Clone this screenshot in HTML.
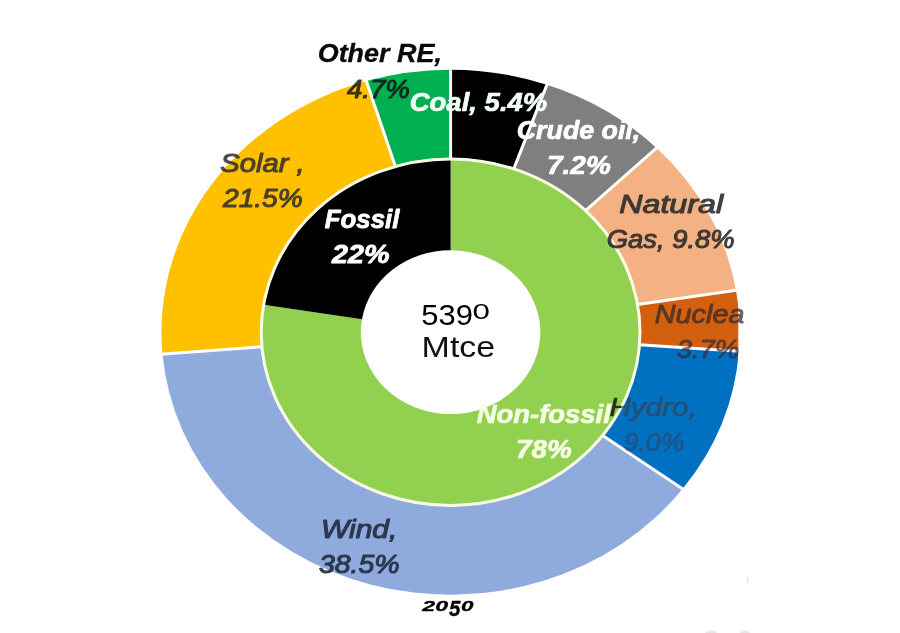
<!DOCTYPE html>
<html><head><meta charset="utf-8"><title>2050 energy mix</title>
<style>
html,body{margin:0;padding:0;background:#fff;}
body{width:900px;height:633px;overflow:hidden;}
svg{display:block}
.bi text{font-family:"Liberation Sans",sans-serif;font-style:italic;font-size:25.5px;stroke-linejoin:round;}
.c text{font-family:"Liberation Sans",sans-serif;font-weight:400;}
</style></head><body>
<svg width="900" height="633" viewBox="0 0 900 633">
<defs><clipPath id="clipR"><rect x="0" y="0" width="743.6" height="633"/></clipPath>
<clipPath id="clipChart"><rect x="0" y="0" width="738.3" height="633"/></clipPath>
<linearGradient id="hy" gradientUnits="userSpaceOnUse" x1="611.8" y1="403.3" x2="629.5" y2="412.7"><stop offset="0" stop-color="#1c2a1c" stop-opacity="0.95"/><stop offset="0.5" stop-color="#1c2a1c" stop-opacity="0.95"/><stop offset="0.5" stop-color="#3c3c44" stop-opacity="0.56"/><stop offset="1" stop-color="#3c3c44" stop-opacity="0.56"/></linearGradient>
</defs>
<rect width="900" height="633" fill="#fff"/>
<g clip-path="url(#clipChart)">
<path d="M450.60 69.70A289.1 262.5 0 0 1 547.00 84.72L513.76 168.91A189.4 173.2 0 0 0 450.60 159.00Z" fill="#000000"/>
<path d="M547.00 84.72A289.1 262.5 0 0 1 656.63 148.05L585.58 210.70A189.4 173.2 0 0 0 513.76 168.91Z" fill="#7f7f7f"/>
<path d="M656.63 148.05A289.1 262.5 0 0 1 735.98 290.24L637.56 304.51A189.4 173.2 0 0 0 585.58 210.70Z" fill="#f4b183"/>
<path d="M735.98 290.24A289.1 262.5 0 0 1 738.94 351.19L639.50 344.73A189.4 173.2 0 0 0 637.56 304.51Z" fill="#d2600f"/>
<path d="M738.94 351.19A289.1 262.5 0 0 1 682.65 488.76L602.63 435.50A189.4 173.2 0 0 0 639.50 344.73Z" fill="#0070c0"/>
<path d="M682.65 488.76A289.1 262.5 0 0 1 162.51 354.17L261.86 346.69A189.4 173.2 0 0 0 602.63 435.50Z" fill="#8faadc"/>
<path d="M162.51 354.17A289.1 262.5 0 0 1 366.30 81.11L395.37 166.53A189.4 173.2 0 0 0 261.86 346.69Z" fill="#ffc000"/>
<path d="M366.30 81.11A289.1 262.5 0 0 1 450.60 69.70L450.60 159.00A189.4 173.2 0 0 0 395.37 166.53Z" fill="#00b050"/>
<path d="M450.60 159.00A189.4 173.2 0 1 1 263.61 304.66L361.99 319.18A89.75 81.9 0 1 0 450.60 250.30Z" fill="#92d050"/>
<path d="M263.61 304.66A189.4 173.2 0 0 1 450.60 159.00L450.60 250.30A89.75 81.9 0 0 0 361.99 319.18Z" fill="#000000"/>
<path d="M450.60 159.00L450.60 67.70M513.76 168.91L547.67 82.84M585.58 210.70L658.05 146.65M637.56 304.51L737.96 289.92M639.50 344.73L740.94 351.33M602.63 435.50L684.26 489.95M261.86 346.69L160.52 354.33M395.37 166.53L365.71 79.20" stroke="#fff" stroke-width="3" fill="none"/>
<ellipse cx="450.6" cy="332.2" rx="189.4" ry="173.2" fill="none" stroke="#fbfce6" stroke-width="3"/>
</g>
<g class="bi" font-weight="700">
<text x="317.7" y="61.6" textLength="124.2" lengthAdjust="spacingAndGlyphs" fill="#0a0a0a" stroke="#0a0a0a" stroke-width="0.3" font-weight="700" opacity="1">Other RE,</text>
<text x="347.0" y="97.6" textLength="62.9" lengthAdjust="spacingAndGlyphs" fill="#101010" stroke="#101010" stroke-width="1.05" font-weight="400" opacity="0.82">4.7%</text>
<text x="409.7" y="111.1" textLength="137.6" lengthAdjust="spacingAndGlyphs" fill="#f4fff8" stroke="#f4fff8" stroke-width="0.7" font-weight="700" opacity="1">Coal, 5.4%</text>
<text x="516.8" y="139.3" textLength="123.4" lengthAdjust="spacingAndGlyphs" fill="#ffffff" stroke="#ffffff" stroke-width="0.7" font-weight="700" opacity="1">Crude oil,</text>
<text x="547.0" y="174.0" textLength="63.8" lengthAdjust="spacingAndGlyphs" fill="#ffffff" stroke="#ffffff" stroke-width="0.7" font-weight="700" opacity="1">7.2%</text>
<text x="619.2" y="212.9" textLength="103.9" lengthAdjust="spacingAndGlyphs" fill="#2c2c2c" stroke="#2c2c2c" stroke-width="1.05" font-weight="400" opacity="0.9">Natural</text>
<text x="606.8" y="247.6" textLength="127.8" lengthAdjust="spacingAndGlyphs" fill="#2c2c2c" stroke="#2c2c2c" stroke-width="1.05" font-weight="400" opacity="0.9">Gas, 9.8%</text>
<text x="321.0" y="537.9" textLength="76.3" lengthAdjust="spacingAndGlyphs" fill="#222c40" stroke="#222c40" stroke-width="1.05" font-weight="400" opacity="0.9">Wind,</text>
<text x="318.9" y="573.4" textLength="80.7" lengthAdjust="spacingAndGlyphs" fill="#222c40" stroke="#222c40" stroke-width="1.05" font-weight="400" opacity="0.9">38.5%</text>
<text x="220.3" y="172.3" textLength="84.3" lengthAdjust="spacingAndGlyphs" fill="#2c2c2c" stroke="#2c2c2c" stroke-width="1.05" font-weight="400" opacity="0.85">Solar ,</text>
<text x="223.0" y="207.3" textLength="79.8" lengthAdjust="spacingAndGlyphs" fill="#2c2c2c" stroke="#2c2c2c" stroke-width="1.05" font-weight="400" opacity="0.85">21.5%</text>
<text x="324.8" y="227.7" textLength="74.5" lengthAdjust="spacingAndGlyphs" fill="#ffffff" stroke="#ffffff" stroke-width="0.8" font-weight="700" opacity="1">Fossil</text>
<text x="331.9" y="263.4" textLength="57.6" lengthAdjust="spacingAndGlyphs" fill="#ffffff" stroke="#ffffff" stroke-width="0.8" font-weight="700" opacity="1">22%</text>
<text x="476.8" y="423.4" textLength="134.0" lengthAdjust="spacingAndGlyphs" fill="#f6fde4" stroke="#f6fde4" stroke-width="0.7" font-weight="700" opacity="1">Non-fossil</text>
<text x="515.9" y="458.4" textLength="55.8" lengthAdjust="spacingAndGlyphs" fill="#f6fde4" stroke="#f6fde4" stroke-width="0.7" font-weight="700" opacity="1">78%</text>
<g clip-path="url(#clipR)">
<text x="654.8" y="322.5" textLength="105.6" lengthAdjust="spacingAndGlyphs" fill="#35282c" stroke="#35282c" stroke-width="0.3" opacity="0.74" font-weight="400" style="stroke-width:0.95px">Nuclear,</text>
<text x="676.7" y="357.9" textLength="62.6" lengthAdjust="spacingAndGlyphs" fill="#35283a" stroke="#35283a" stroke-width="0.3" opacity="0.68" font-weight="400" style="stroke-width:0.95px">3.7%</text>
</g>
<text x="609.4" y="416.4" textLength="87.4" lengthAdjust="spacingAndGlyphs" fill="url(#hy)" stroke="url(#hy)" stroke-width="0.6" font-weight="400">Hydro,</text>
<text x="623.7" y="451.1" textLength="60.6" lengthAdjust="spacingAndGlyphs" fill="#3a3a4c" stroke="#3a3a4c" stroke-width="0.3" opacity="0.45" font-weight="400" style="stroke-width:0.8px">9.0%</text>
<text x="422.3" y="610.5" style="font-size:14.8px;stroke-width:0.3px" fill="#000" stroke="#000"><tspan textLength="25.8" lengthAdjust="spacingAndGlyphs">20</tspan><tspan dx="0.8" dy="5.4" style="font-size:22px" textLength="11.4" lengthAdjust="spacingAndGlyphs">5</tspan><tspan dx="0.8" dy="-5.4" textLength="12.5" lengthAdjust="spacingAndGlyphs">0</tspan></text>
</g>
<g fill="#dcdcdc"><rect x="747" y="577.5" width="1.2" height="6" fill="#d4d4d8" opacity="0.8"/><ellipse cx="711" cy="633.5" rx="6" ry="3" opacity="0.7"/><ellipse cx="745" cy="633.5" rx="5" ry="3" opacity="0.7"/></g>
<g class="c">
<text x="421.3" y="324.8" font-size="30"><tspan textLength="51.6" lengthAdjust="spacingAndGlyphs">539</tspan><tspan x="472.4" dy="-6.2" font-size="22.5" textLength="17.4" lengthAdjust="spacingAndGlyphs">0</tspan></text>
<text x="421.6" y="357" font-size="30" textLength="73.6" lengthAdjust="spacingAndGlyphs" fill="#111">Mtce</text>
</g>
</svg>
</body></html>
